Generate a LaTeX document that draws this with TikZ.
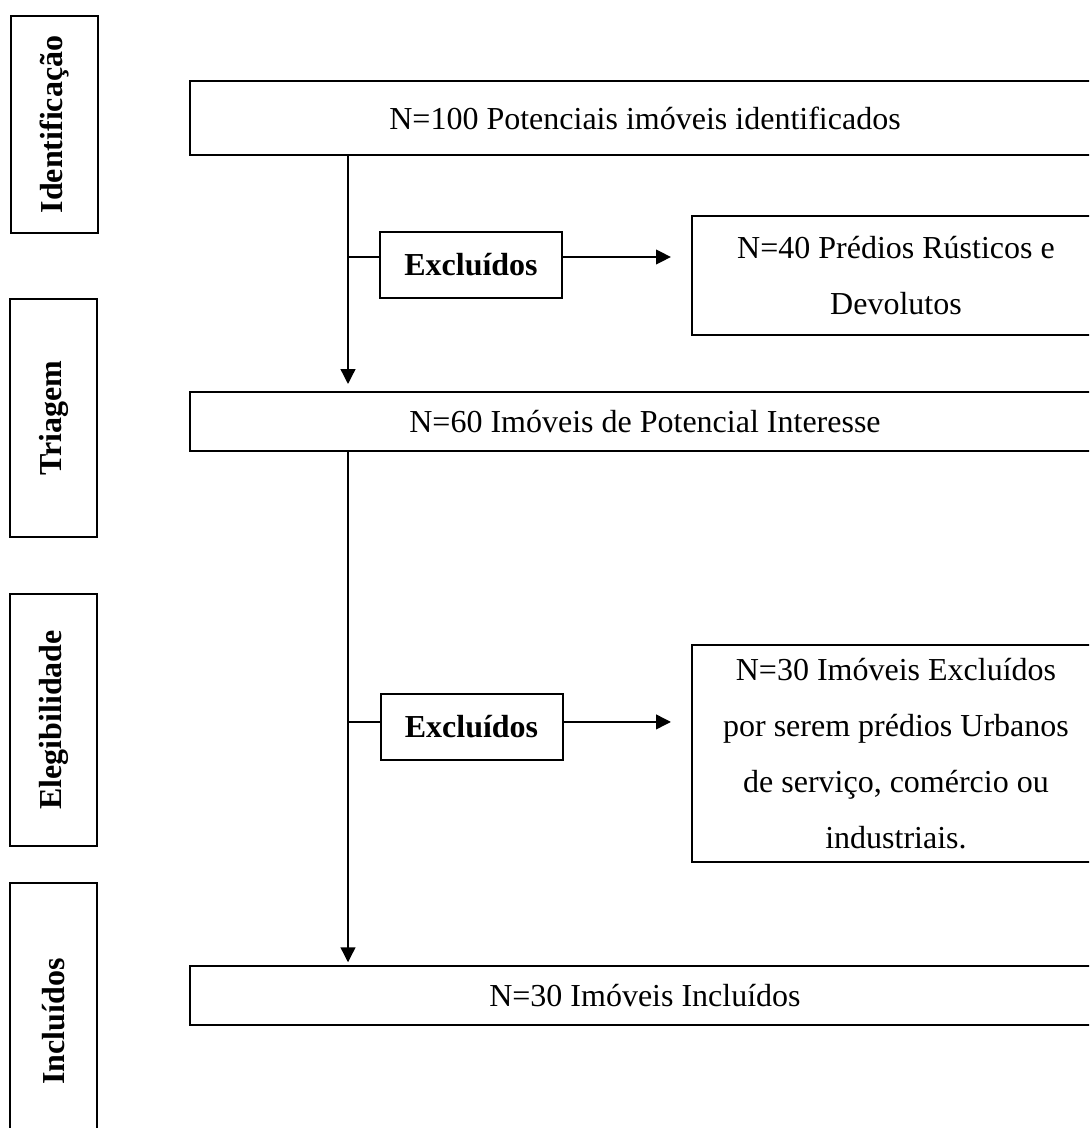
\documentclass[tikz,border=0pt]{standalone}
\usepackage{fontspec}
\setmainfont{Liberation Serif}
\usetikzlibrary{arrows.meta,positioning}

\begin{document}
\begin{tikzpicture}[x=0.375pt, y=-0.375pt, line width=0.75pt,
  every node/.style={draw, rectangle, align=center, inner sep=0pt, font=\fontsize{12}{21}\selectfont},
  phase/.style={rotate=90, minimum height=32.6pt, font=\bfseries\fontsize{12}{14}\selectfont},
  count/.style={minimum width=341.25pt},
  reason/.style={minimum width=153pt},
  cut/.style={minimum width=68.25pt, minimum height=24.75pt, font=\bfseries\fontsize{12}{14}\selectfont},
  link/.style={line width=1pt},
  flow/.style={link, -{Triangle[length=5.6pt,width=5.4pt]}}]

\clip (0,0) rectangle (1089,1128);

% phases on the left
\node[phase, minimum width=81.4pt] (ident) at (54.5,124.5) {Identificação};
\node[phase, minimum width=89.25pt] (triag) at (53.5,418) {Triagem};
\node[phase, minimum width=94.5pt] (eleg) at (53.5,720) {Elegibilidade};
\node[phase, minimum width=103.9pt] (incl) at (53.5,1021.5) {Incluídos};

% main flow
\node[count, minimum height=27.75pt] (found) at (645,118) {N=100 Potenciais imóveis identificados};
\node[count, minimum height=22.1pt] (screened) at (645,421.5) {N=60 Imóveis de Potencial Interesse};
\node[count, minimum height=22.1pt] (kept) at (645,995.5) {N=30 Imóveis Incluídos};
\coordinate (spine) at (348,0);

% exclusions
\node[cut] (excl1) at (471,265) {Excluídos};
\node[reason, minimum height=44.6pt] (rustic) at (896,275.5) {N=40 Prédios Rústicos e\\Devolutos};
\node[cut] (excl2) at (471.5,727) {Excluídos};
\node[reason, minimum height=81.4pt] (urban) at (896,753.5) {N=30 Imóveis Excluídos\\por serem prédios Urbanos\\de serviço, comércio ou\\industriais.};

\draw[flow, shorten >=2.6pt] (found.south -| spine) -- (screened.north -| spine);
\draw[link] ([yshift=3pt]excl1.west -| spine) -- ([yshift=3pt]excl1.west);
\draw[flow, shorten >=7.5pt] ([yshift=3pt]excl1.east) -- ([yshift=3pt]rustic.west |- excl1.east);
\draw[flow, shorten >=1pt] (screened.south -| spine) -- (kept.north -| spine);
\draw[link] ([yshift=1.9pt]excl2.west -| spine) -- ([yshift=1.9pt]excl2.west);
\draw[flow, shorten >=7.5pt] ([yshift=1.9pt]excl2.east) -- ([yshift=1.9pt]urban.west |- excl2.east);

\end{tikzpicture}
\end{document}
